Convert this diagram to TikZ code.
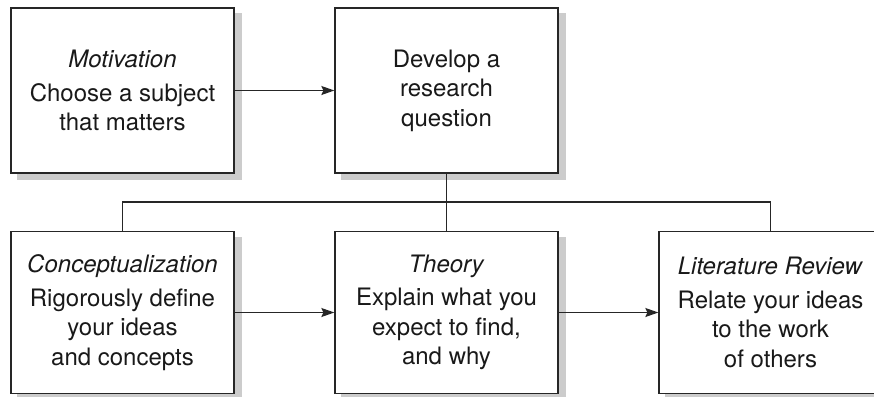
\documentclass[tikz,border=0pt]{standalone}
\usepackage{fontspec}
\setmainfont{TeX Gyre Heros}
\usepackage{tikz}
\usetikzlibrary{arrows.meta,calc,backgrounds}

\begin{document}
\begin{tikzpicture}[x=1pt,y=-1pt,
  stagebox/.style={draw=black!85,line width=1.3pt,fill=white,align=center,
    minimum width=223pt,inner sep=0pt,text=black!90,
    font=\fontsize{24}{29.5}\selectfont},
  toprow/.style={stagebox,minimum height=165pt},
  lowrow/.style={stagebox,minimum height=162pt},
  boxshade/.style={fill=black!20},
  link/.style={line width=1.3pt,draw=black!85},
  linkarrow/.style={link,-{Stealth[length=13pt,width=9pt,inset=2pt]}}]
\useasboundingbox (0,0) rectangle (874,396);
\node[toprow] (motiv) at (122.5,90.5) {\textit{Motivation}\\[4pt]Choose a subject\\that matters};
\node[toprow] (quest) at (446.5,90.5) {Develop a\\research\\question};
\node[lowrow] (concept) at (122.5,312.5) {\textit{Conceptualization}\\[4pt]Rigorously define\\your ideas\\and concepts};
\node[lowrow] (theory) at (446.5,312.5) {\textit{Theory}\\[4pt]Explain what you\\expect to find,\\and why};
\node[lowrow] (lit) at (770.5,312.5) {\textit{Literature Review}\\[4pt]Relate your ideas\\to the work\\of others};
\begin{scope}[on background layer]
\foreach \b in {motiv,quest,concept,theory,lit}
  \fill[boxshade] ($(\b.south west)+(7,6)$) rectangle ($(\b.north east)+(7,6)$);
\end{scope}
\coordinate (split) at (446.5,202);
\draw[linkarrow] (motiv) -- (quest);
\draw[link] (quest.south) -- (theory.north);
\draw[link] (concept.north) |- (split) -| (lit.north);
\draw[linkarrow] (concept) -- (theory);
\draw[linkarrow] (theory) -- (lit);
\end{tikzpicture}
\end{document}
